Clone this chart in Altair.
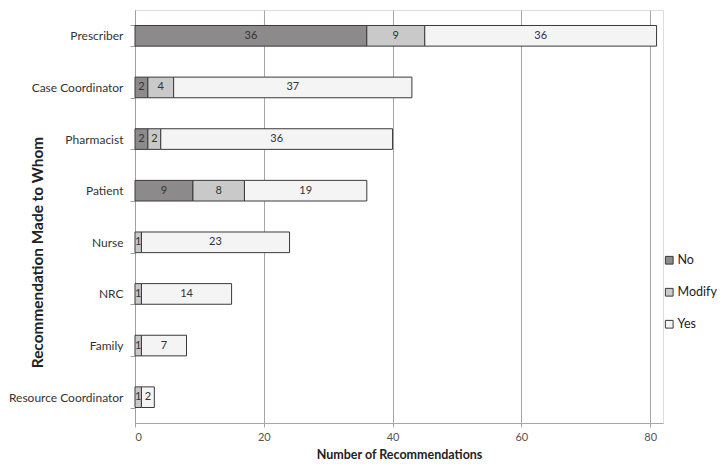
import altair as alt
import pandas as pd

recipients = ["Prescriber", "Case Coordinator", "Pharmacist", "Patient",
              "Nurse", "NRC", "Family", "Resource Coordinator"]
no_vals = [36, 2, 2, 9, 0, 0, 0, 0]
modify_vals = [9, 4, 2, 8, 1, 1, 1, 1]
yes_vals = [36, 37, 36, 19, 23, 14, 7, 2]
responses = ["No", "Modify", "Yes"]
colors = ["#8c8a8a", "#c9c9c9", "#f4f4f4"]
x_ticks = [0, 20, 40, 60, 80]

rows = []
for i, r in enumerate(recipients):
    for j, (resp, vals) in enumerate(zip(responses, [no_vals, modify_vals, yes_vals])):
        if vals[i] > 0:
            rows.append({"who": r, "response": resp, "order": j, "value": vals[i]})
df = pd.DataFrame(rows)

FONT = "Lato"
H = 413

base = alt.Chart(df).transform_stack(
    stack="value", groupby=["who"], as_=["x0", "x1"],
    sort=[alt.SortField("order", order="ascending")]
).transform_calculate(mid="(datum.x0 + datum.x1) / 2")

y_enc = alt.Y("who:N", sort=recipients, scale=alt.Scale(paddingInner=0.6, paddingOuter=0.3),
              axis=alt.Axis(title="Recommendation Made to Whom", tickBand="extent",
                            labelFontSize=12, labelColor="#333333", labelFont=FONT,
                            titleFont=FONT, titleFontSize=15.4, titleFontWeight="bold",
                            titleColor="#222222", titleX=-98, titleY=242,
                            titleAngle=-90, titleAlign="center", titleBaseline="middle",
                            tickSize=5, tickColor="#a0a0a0", labelPadding=7,
                            domainColor="#a0a0a0", grid=False))

bars = base.mark_bar(stroke="#3a3a3a", strokeWidth=1).encode(
    x=alt.X("x0:Q", scale=alt.Scale(domain=[0, 82], nice=False),
            axis=alt.Axis(title="Number of Recommendations", values=x_ticks,
                          grid=True, gridColor="#a6a6a6", gridWidth=1,
                          labelFont=FONT, labelFontSize=11, labelColor="#555555",
                          titleFont=FONT, titleFontSize=12.5, titleFontWeight="bold",
                          titleColor="#222222", titlePadding=6,
                          ticks=True, tickSize=4, tickColor="#a6a6a6",
                          domainColor="#a6a6a6", labelPadding=4)),
    x2="x1:Q",
    y=y_enc,
    color=alt.Color("response:N", sort=responses,
                    scale=alt.Scale(domain=responses, range=colors),
                    legend=alt.Legend(title=None, orient="none", legendX=528, legendY=244,
                                      symbolType="square", symbolSize=60,
                                      symbolStrokeColor="#3a3a3a", symbolStrokeWidth=1,
                                      labelFont=FONT, labelFontSize=12.5, labelColor="#222222",
                                      rowPadding=19, labelOffset=2)),
    order=alt.Order("order:Q"),
)

labels = base.mark_text(font=FONT, fontSize=11, color="#333333").encode(
    x=alt.X("mid:Q"),
    y=alt.Y("who:N", sort=recipients),
    text=alt.Text("value:Q"),
)

chart = alt.layer(bars, labels).properties(
    width=528, height=H,
    autosize=alt.AutoSizeParams(type="none"),
    padding={"left": 127, "top": 2, "right": 54, "bottom": 39},
).configure_view(stroke=None).configure(background="white")

chart.save("out.html", embed_options={"renderer": "svg", "actions": False})
